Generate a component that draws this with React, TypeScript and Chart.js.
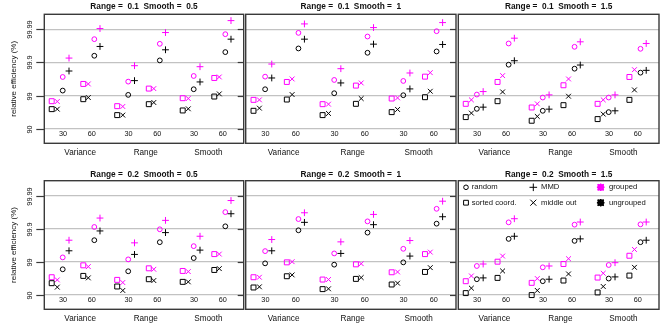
import React, { useEffect, useRef } from 'react';
import { Chart, registerables } from 'chart.js';

Chart.register(...registerables);

// ---------- data ----------
const panelTitles = [
  'Range =  0.1  Smooth =  0.5',
  'Range =  0.1  Smooth =  1',
  'Range =  0.1  Smooth =  1.5',
  'Range =  0.2  Smooth =  0.5',
  'Range =  0.2  Smooth =  1',
  'Range =  0.2  Smooth =  1.5',
];
const groups = ['Variance', 'Range', 'Smooth'];
const sizes = ['30', '60'];
// y values are in "nines": -log10(1 - efficiency)
const yTickValues = [1, 2, 3, 4];
const yTickLabels = ['90', '99', '99.9', '99.99'];
const methods = ['sorted coord.', 'middle out', 'random', 'MMD'];
const yAxisTitle = 'relative efficiency (%)';

// each row = one panel, order: Variance30, Variance60, Range30, Range60, Smooth30, Smooth60
const sortedUngrouped = [
  1.59, 1.89, 1.41, 1.74, 1.55, 1.97,
  1.54, 1.88, 1.41, 1.75, 1.50, 1.95,
  1.35, 1.83, 1.24, 1.71, 1.29, 1.87,
  1.35, 1.57, 1.25, 1.47, 1.39, 1.75,
  1.22, 1.56, 1.17, 1.48, 1.31, 1.69,
  1.05, 1.51, 0.99, 1.43, 1.07, 1.58,
];
const middleUngrouped = [
  1.59, 1.94, 1.41, 1.79, 1.60, 2.05,
  1.62, 2.03, 1.46, 1.91, 1.58, 2.13,
  1.47, 2.11, 1.37, 1.98, 1.44, 2.17,
  1.23, 1.51, 1.13, 1.43, 1.39, 1.79,
  1.24, 1.60, 1.18, 1.52, 1.35, 1.82,
  1.20, 1.72, 1.13, 1.63, 1.25, 1.83,
];
const randomUngrouped = [
  2.15, 3.20, 2.02, 3.06, 2.19, 3.31,
  2.19, 3.42, 2.07, 3.29, 2.01, 3.33,
  1.60, 2.93, 1.54, 2.81, 1.50, 2.69,
  1.77, 2.65, 1.71, 2.59, 2.11, 3.07,
  1.95, 2.95, 1.91, 2.88, 1.98, 3.15,
  1.47, 2.69, 1.41, 2.63, 1.49, 2.59,
];
const mmdUngrouped = [
  2.74, 3.48, 2.45, 3.38, 2.41, 3.70,
  2.53, 3.70, 2.38, 3.55, 2.20, 3.54,
  1.65, 3.05, 1.59, 2.92, 1.54, 2.76,
  2.33, 2.93, 2.22, 2.88, 2.35, 3.45,
  2.33, 3.19, 2.25, 3.12, 2.17, 3.36,
  1.51, 2.77, 1.47, 2.69, 1.54, 2.65,
];
const sortedGrouped = [
  1.83, 2.35, 1.68, 2.21, 1.92, 2.53,
  1.87, 2.41, 1.74, 2.30, 1.91, 2.57,
  1.75, 2.41, 1.64, 2.31, 1.75, 2.56,
  1.53, 1.89, 1.45, 1.80, 1.72, 2.23,
  1.53, 1.98, 1.46, 1.92, 1.68, 2.23,
  1.41, 2.00, 1.36, 1.93, 1.52, 2.18,
];
const middleGrouped = [
  1.82, 2.35, 1.67, 2.21, 1.91, 2.56,
  1.87, 2.50, 1.74, 2.38, 1.93, 2.69,
  1.87, 2.60, 1.75, 2.50, 1.87, 2.78,
  1.45, 1.85, 1.37, 1.77, 1.70, 2.23,
  1.53, 2.00, 1.46, 1.94, 1.69, 2.29,
  1.57, 2.17, 1.49, 2.09, 1.65, 2.37,
];
const randomGrouped = [
  2.56, 3.70, 2.42, 3.56, 2.59, 3.85,
  2.57, 3.89, 2.47, 3.78, 2.44, 3.94,
  2.03, 3.57, 1.94, 3.47, 1.94, 3.41,
  2.13, 3.05, 2.07, 2.98, 2.47, 3.50,
  2.32, 3.29, 2.25, 3.22, 2.39, 3.60,
  1.87, 3.19, 1.83, 3.12, 1.90, 3.13,
];
const mmdGrouped = [
  3.13, 4.02, 2.90, 3.90, 2.87, 4.26,
  2.95, 4.16, 2.81, 4.05, 2.68, 4.20,
  2.12, 3.73, 2.02, 3.62, 2.02, 3.57,
  2.65, 3.32, 2.57, 3.25, 2.77, 3.85,
  2.67, 3.48, 2.60, 3.43, 2.64, 3.83,
  1.93, 3.30, 1.87, 3.20, 1.97, 3.20,
];

// ---------- layout / style ----------
const W = 664;
const H = 332;
const colEdges = [[44.3, 243.7], [245.7, 456], [458.3, 663]];
const rowEdges = [[14.3, 143.3], [180.7, 309.3]];
const titleY = [6.8, 174.6];
const xMin = -0.652;
const xMax = 6.298;
const groupStep = 2.283;
const dodge = [
  [-0.394, -0.199, -0.01, 0.209],
  [-0.293, -0.118, 0.091, 0.289],
];
const groupLabelShift = [0.1, 0.1, 0];
const FONT = '"Liberation Sans", Arial, Helvetica, sans-serif';
const MAGENTA = '#ff00ff';
const BLACK = '#000000';
const methodStyles = [
  { pointStyle: 'rect', radius: 3.5 },
  { pointStyle: 'crossRot', radius: 3.4 },
  { pointStyle: 'circle', radius: 2.4 },
  { pointStyle: 'cross', radius: 3.4 },
];
const seriesTable = [
  { method: 0, grouped: false, values: sortedUngrouped },
  { method: 1, grouped: false, values: middleUngrouped },
  { method: 2, grouped: false, values: randomUngrouped },
  { method: 3, grouped: false, values: mmdUngrouped },
  { method: 0, grouped: true, values: sortedGrouped },
  { method: 1, grouped: true, values: middleGrouped },
  { method: 2, grouped: true, values: randomGrouped },
  { method: 3, grouped: true, values: mmdGrouped },
];

function drawSym(ctx: CanvasRenderingContext2D, style: string, x: number, y: number, color: string, lw = 1) {
  ctx.save();
  ctx.strokeStyle = color;
  ctx.lineWidth = lw;
  ctx.beginPath();
  if (style === 'circle') {
    ctx.arc(x, y, 2.3, 0, Math.PI * 2);
  } else if (style === 'rect') {
    ctx.rect(x - 2.4, y - 2.4, 4.8, 4.8);
  } else if (style === 'cross') {
    ctx.moveTo(x - 3.8, y); ctx.lineTo(x + 3.8, y);
    ctx.moveTo(x, y - 3.8); ctx.lineTo(x, y + 3.8);
  } else {
    ctx.moveTo(x - 3, y - 3); ctx.lineTo(x + 3, y + 3);
    ctx.moveTo(x - 3, y + 3); ctx.lineTo(x + 3, y - 3);
  }
  ctx.stroke();
  ctx.restore();
}

function makeConfig(index: number): any {
  const row = Math.floor(index / 3);
  const col = index % 3;
  const [l, r] = colEdges[col];
  const [t, b] = rowEdges[row];

  const datasets = seriesTable.map((s) => {
    const st = methodStyles[s.method];
    const data: { x: number; y: number }[] = [];
    groups.forEach((_, g) => {
      sizes.forEach((__, k) => {
        data.push({ x: g * groupStep + k + dodge[k][s.method], y: s.values[index * 6 + g * 2 + k] });
      });
    });
    return {
      label: methods[s.method] + (s.grouped ? ' grouped' : ' ungrouped'),
      data,
      showLine: false,
      pointStyle: st.pointStyle,
      pointRadius: st.radius,
      pointBorderWidth: 1,
      pointBorderColor: s.grouped ? MAGENTA : BLACK,
      pointBackgroundColor: 'rgba(0,0,0,0)',
      clip: false,
    };
  });

  const decor = {
    id: 'decor' + index,
    afterDraw(chart: any) {
      const ctx: CanvasRenderingContext2D = chart.ctx;
      const { left, right, top, bottom } = chart.chartArea;
      const xs = chart.scales.x;
      const ys = chart.scales.y;
      ctx.save();
      // panel border
      ctx.strokeStyle = '#3a3a3a';
      ctx.lineWidth = 1.4;
      ctx.strokeRect(left, top, right - left, bottom - top);
      ctx.lineWidth = 1.2;
      // inner right ticks
      if (col < 2) {
        yTickValues.forEach((v) => {
          const y = Math.round(ys.getPixelForValue(v)) + 0.5;
          ctx.beginPath();
          ctx.moveTo(right - 6, y);
          ctx.lineTo(right, y);
          ctx.stroke();
        });
      }
      ctx.fillStyle = '#111';
      // left axis
      if (col === 0) {
        yTickValues.forEach((v, i) => {
          const y = Math.round(ys.getPixelForValue(v)) + 0.5;
          ctx.beginPath();
          ctx.moveTo(left - 8, y);
          ctx.lineTo(left, y);
          ctx.stroke();
          ctx.save();
          ctx.translate(30.3, y);
          ctx.rotate(-Math.PI / 2);
          ctx.font = '7.3px ' + FONT;
          ctx.textAlign = 'center';
          ctx.textBaseline = 'middle';
          ctx.fillText(yTickLabels[i], 0, 0);
          ctx.restore();
        });
        ctx.save();
        ctx.translate(14.2, (top + bottom) / 2);
        ctx.rotate(-Math.PI / 2);
        ctx.font = '8px ' + FONT;
        ctx.textAlign = 'center';
        ctx.textBaseline = 'middle';
        ctx.fillText(yAxisTitle, 0, 0);
        ctx.restore();
      }
      // size tick labels (inside panel)
      ctx.font = '7.3px ' + FONT;
      ctx.textAlign = 'center';
      ctx.textBaseline = 'middle';
      groups.forEach((_, g) => {
        sizes.forEach((lab, k) => {
          ctx.fillText(lab, xs.getPixelForValue(g * groupStep + k), bottom - 9.5);
        });
      });
      // group labels
      ctx.font = '8.2px ' + FONT;
      groups.forEach((lab, g) => {
        ctx.fillText(lab, xs.getPixelForValue(g * groupStep + 0.5 + groupLabelShift[g]), bottom + 9.3);
      });
      // title
      ctx.font = 'bold 8.3px ' + FONT;
      ctx.fillText(panelTitles[index], (left + right) / 2, titleY[row]);
      // legend
      if (index === 5) {
        const symX = [left + 7.7, left + 75, left + 142.4];
        const txtX = [left + 13.4, left + 82.7, left + 150.7];
        const rowY = [top + 6.6, top + 22];
        ctx.font = '7.7px ' + FONT;
        ctx.textAlign = 'left';
        ctx.fillStyle = '#111';
        drawSym(ctx, 'circle', symX[0], rowY[0], BLACK);
        ctx.fillText(methods[2], txtX[0], rowY[0]);
        drawSym(ctx, 'cross', symX[1], rowY[0], BLACK);
        ctx.fillText(methods[3], txtX[1], rowY[0]);
        drawSym(ctx, 'rect', symX[0], rowY[1], BLACK);
        ctx.fillText(methods[0], txtX[0], rowY[1]);
        drawSym(ctx, 'crossRot', symX[1], rowY[1], BLACK);
        ctx.fillText(methods[1], txtX[1], rowY[1]);
        ['circle', 'rect', 'cross', 'crossRot'].forEach((s) => {
          drawSym(ctx, s, symX[2], rowY[0], MAGENTA, 1.4);
          drawSym(ctx, s, symX[2], rowY[1], BLACK, 1.4);
        });
        ctx.fillText('grouped', txtX[2], rowY[0]);
        ctx.fillText('ungrouped', txtX[2], rowY[1]);
      }
      ctx.restore();
    },
  };

  return {
    type: 'scatter',
    data: { datasets },
    options: {
      responsive: false,
      animation: false,
      devicePixelRatio: 1,
      events: [],
      layout: { padding: { left: l, right: W - r, top: t, bottom: H - b } },
      plugins: { legend: { display: false }, tooltip: { enabled: false } },
      scales: {
        x: { type: 'linear', display: false, min: xMin, max: xMax },
        y: {
          type: 'linear',
          position: 'left',
          min: 0.56,
          max: 4.45,
          afterBuildTicks: (s: any) => {
            s.ticks = yTickValues.map((v) => ({ value: v }));
          },
          afterFit: (s: any) => {
            s.width = 0;
          },
          ticks: { display: false },
          grid: { color: '#c2c2c2', lineWidth: 1.2, drawTicks: false },
          border: { display: false },
        },
      },
    },
    plugins: [decor],
  };
}

function Panel({ index }: { index: number }) {
  const ref = useRef<HTMLCanvasElement>(null);
  useEffect(() => {
    const chart = new Chart(ref.current as HTMLCanvasElement, makeConfig(index));
    return () => chart.destroy();
  }, [index]);
  return (
    <canvas
      ref={ref}
      width={W}
      height={H}
      style={{ position: 'absolute', left: 0, top: 0, width: W, height: H }}
    />
  );
}

export default function App() {
  return (
    <div style={{ position: 'absolute', left: 0, top: 0, width: W, height: H, background: '#ffffff' }}>
      {panelTitles.map((_, i) => (
        <Panel key={i} index={i} />
      ))}
    </div>
  );
}
